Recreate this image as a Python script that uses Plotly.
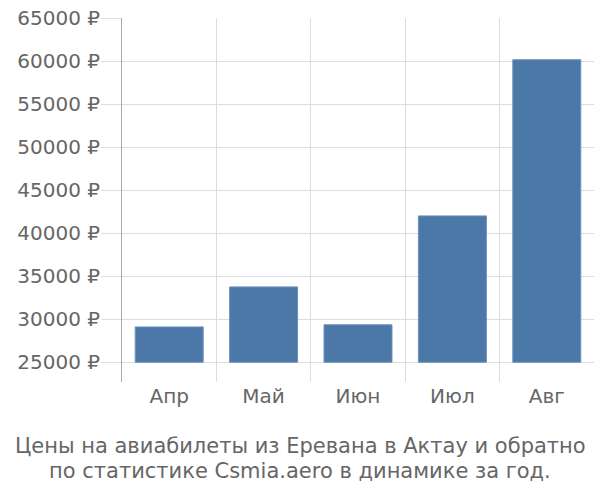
import plotly.graph_objects as go

months = ["Апр", "Май", "Июн", "Июл", "Авг"]
prices = [29100, 33750, 29350, 42000, 60150]
base_value = 25000
tick_values = [25000, 30000, 35000, 40000, 45000, 50000, 55000, 60000, 65000]
tick_labels = [f"{v} ₽" for v in tick_values]
title_lines = [
    "Цены на авиабилеты из Еревана в Актау и обратно",
    "по статистике Csmia.aero в динамике за год.",
]

bar_color = "#4c78a8"
grid_color = "#dddddd"
text_color = "#666666"
font_family = "DejaVu Sans, Liberation Sans, sans-serif"

fig = go.Figure(
    go.Bar(
        x=months,
        y=[p - base_value for p in prices],
        base=base_value,
        marker=dict(color=bar_color, line=dict(color="#6a8fbb", width=1)),
        width=0.72,
    )
)

fig.update_layout(
    width=600,
    height=500,
    margin=dict(l=122, r=6, t=14, b=118),
    paper_bgcolor="white",
    plot_bgcolor="white",
    showlegend=False,
    font=dict(family=font_family, size=20, color=text_color),
)

# two centred caption lines below the plot
plot_left, plot_right, plot_top, plot_bottom = 122, 594, 14, 382
for line, ypix in zip(title_lines, [447, 472]):
    fig.add_annotation(
        text=line,
        xref="paper",
        yref="paper",
        x=(300 - plot_left) / (plot_right - plot_left),
        y=(plot_bottom - ypix) / (plot_bottom - plot_top),
        xanchor="center",
        yanchor="middle",
        showarrow=False,
        font=dict(family=font_family, size=21, color=text_color),
    )

fig.update_xaxes(
    type="category",
    range=[-0.5, 4.5],
    tickson="boundaries",
    ticks="",
    showgrid=True,
    gridcolor=grid_color,
    gridwidth=1,
    showline=False,
    zeroline=False,
    tickfont=dict(size=20, color=text_color),
)

fig.update_yaxes(
    range=[22700, 65000],
    tickvals=tick_values,
    ticktext=tick_labels,
    ticks="outside",
    ticklen=20,
    tickcolor=grid_color,
    tickwidth=1,
    ticklabelstandoff=-3,
    showgrid=True,
    gridcolor=grid_color,
    gridwidth=1,
    showline=True,
    linecolor="#aaaaaa",
    linewidth=1,
    zeroline=False,
    tickfont=dict(size=20, color=text_color),
)

fig.write_html("out.html")
